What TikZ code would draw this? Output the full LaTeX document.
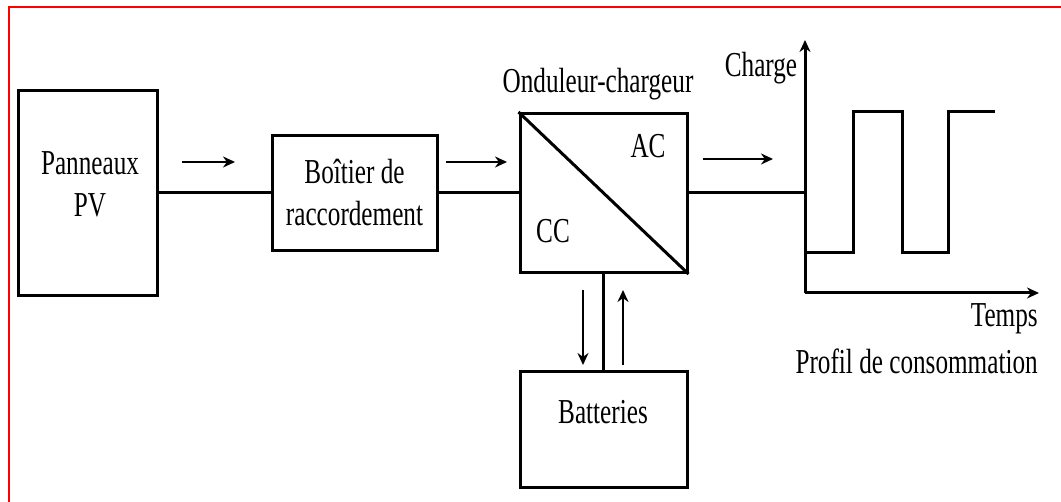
\documentclass[tikz,border=0pt]{standalone}
\usepackage{fontspec}
\setmainfont{Liberation Serif}
\usetikzlibrary{arrows.meta,calc,positioning}

\begin{document}
\begin{tikzpicture}[x=0.5pt,y=-0.5pt,>={Stealth[length=6pt,width=5.5pt]},
  bloc/.style={draw,line width=1.5pt,inner sep=0pt},
  txt/.style={font=\fontsize{17.5}{21}\selectfont,xscale=0.72,align=center,inner sep=0pt},
  trait/.style={line width=1.5pt},
  fleche/.style={->,line width=1.3pt}]
\useasboundingbox (0,0) rectangle (1061,502);
\draw[red,line width=1.3pt] (9,502) -- (9,7) -- (1061,7);
\node[bloc,minimum width=69.5pt,minimum height=102.5pt] (pv) at (88,193) {};
\node[bloc,minimum width=82.5pt,minimum height=57.5pt] (boitier) at (354.5,193) {};
\node[bloc,minimum width=83.5pt,minimum height=79.5pt] (ond) at (603.5,193) {};
\node[bloc,minimum width=83.5pt,minimum height=57.5pt] (bat) at (603.5,429.5) {};
\node[txt] (pvtxt) at (90,184.5) {Panneaux\\PV};
\node[txt] (boitiertxt) at (354.5,192) {Boîtier de\\raccordement};
\node[txt,anchor=base] (ondtxt) at (598,93) {Onduleur-chargeur};
\node[txt,anchor=base] (ac) at (648,158) {AC};
\node[txt,anchor=base] (cc) at (553,243) {CC};
\node[txt,anchor=base] (battxt) at (603,423) {Batteries};
\coordinate (orig) at (805,293);
\coordinate (ytop) at (805,40);
\coordinate (xend) at (1039,293);
\draw[trait] (pv.east) -- (boitier.west);
\draw[trait] (boitier.east) -- (ond.west);
\draw[trait] (ond.north west) -- (ond.south east);
\draw[trait] (ond.south) -- (bat.north);
\draw[trait] (ond.east) -- (ond.east -| orig);
\draw[trait,->] (orig) -- (ytop);
\draw[trait,->] (orig) -- (xend);
\draw[trait] (orig) ++(0,-40) -- ++(48,0) -- ++(0,-141) -- ++(49,0) -- ++(0,141) -- ++(46,0) -- ++(0,-141) -- ++(47,0);
\node[txt,anchor=base] (charge) at (761,77) {Charge};
\node[txt,anchor=base east] (temps) at (1038,327) {Temps};
\node[txt,anchor=base east] (profil) at (1038,373) {Profil de consommation};
\foreach \a/\b/\h in {182/235/162,446/507/162,703/773/159}
  \draw[fleche] (\a,\h) -- (\b,\h);
\draw[fleche] (583,290) -- (583,365);
\draw[fleche] (623,365) -- (623,290);
\end{tikzpicture}
\end{document}
